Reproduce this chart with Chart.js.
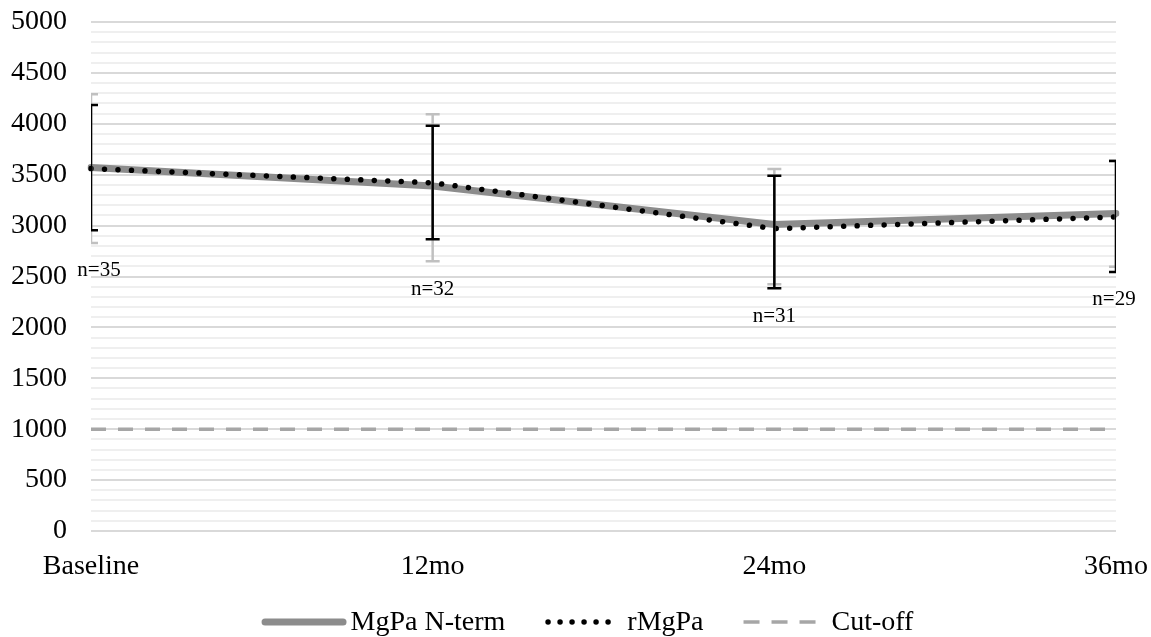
<!DOCTYPE html>
<html lang="en">
<head>
    <meta charset="UTF-8">
    <title>MgPa antibody levels</title>
    <script src="https://cdn.jsdelivr.net/npm/chart.js"></script>
    <style>
        body {
            margin: 0;
            padding: 0;
            background: #ffffff;
        }
        .wrap {
            width: 1151px;
            height: 637px;
        }
    </style>
</head>
<body>
    <div class="wrap">
        <canvas id="mgpaChart" width="1151" height="637"></canvas>
    </div>
    <script>
        // Werte
        const timepoints = ['Baseline', '12mo', '24mo', '36mo'];
        const mgpaNterm = [3570, 3390, 3010, 3120];
        const mgpaNtermLow = [2830, 2650, 2425, 2595];
        const mgpaNtermHigh = [4290, 4095, 3555, 3640];
        const rMgpa = [3560, 3420, 2970, 3085];
        const rMgpaLow = [2955, 2865, 2385, 2545];
        const rMgpaHigh = [4185, 3980, 3490, 3635];
        const cutOff = [1000, 1000, 1000, 1000];
        const nLabels = ['n=35', 'n=32', 'n=31', 'n=29'];

        const serif = 'Liberation Serif';

        // Fehlerbalken und n-Beschriftungen
        const errorBarsPlugin = {
            id: 'errorBars',
            afterDatasetsDraw(chart) {
                const ctx = chart.ctx;
                const x = chart.scales.x;
                const y = chart.scales.y;
                const area = chart.chartArea;
                const cap = 7;

                function drawBars(lows, highs, color) {
                    ctx.save();
                    ctx.beginPath();
                    ctx.rect(area.left, area.top - 20, area.right - area.left, area.bottom - area.top + 40);
                    ctx.clip();
                    ctx.strokeStyle = color;
                    ctx.lineWidth = 2.5;
                    for (let i = 0; i < lows.length; i++) {
                        const px = x.getPixelForValue(i);
                        const top = y.getPixelForValue(highs[i]);
                        const bottom = y.getPixelForValue(lows[i]);
                        ctx.beginPath();
                        ctx.moveTo(px, top);
                        ctx.lineTo(px, bottom);
                        ctx.moveTo(px - cap, top);
                        ctx.lineTo(px + cap, top);
                        ctx.moveTo(px - cap, bottom);
                        ctx.lineTo(px + cap, bottom);
                        ctx.stroke();
                    }
                    ctx.restore();
                }

                drawBars(mgpaNtermLow, mgpaNtermHigh, '#c0c0c0');
                drawBars(rMgpaLow, rMgpaHigh, '#000000');

                ctx.save();
                ctx.font = '21px ' + serif;
                ctx.fillStyle = '#000000';
                ctx.textAlign = 'center';
                ctx.textBaseline = 'middle';
                for (let i = 0; i < nLabels.length; i++) {
                    let px = x.getPixelForValue(i);
                    if (i === 0) px += 8;
                    if (i === nLabels.length - 1) px -= 2;
                    const lowest = Math.min(mgpaNtermLow[i], rMgpaLow[i]);
                    const py = y.getPixelForValue(lowest) + 28;
                    ctx.fillText(nLabels[i], px, py);
                }
                ctx.restore();
            }
        };

        // Legende unten, selbst gezeichnet (Muster unterschiedlich lang)
        const legendPlugin = {
            id: 'bottomLegend',
            afterDraw(chart) {
                const ctx = chart.ctx;
                const area = chart.chartArea;
                const yMid = 622;
                const itemGap = 40;
                ctx.save();
                ctx.font = '28px ' + serif;
                ctx.textBaseline = 'middle';

                const items = chart.data.datasets.map(ds => ({
                    ds: ds,
                    textW: ctx.measureText(ds.label).width
                }));
                let total = 0;
                items.forEach((it, i) => {
                    total += it.ds.legendSample + it.ds.legendGap + it.textW;
                    if (i > 0) total += itemGap;
                });

                let cx = (area.left + area.right) / 2 - 16 - total / 2;
                items.forEach(it => {
                    const ds = it.ds;
                    ctx.save();
                    ctx.strokeStyle = ds.borderColor;
                    ctx.lineWidth = ds.borderWidth;
                    ctx.lineCap = ds.borderCapStyle || 'butt';
                    ctx.setLineDash(ds.legendDash || ds.borderDash || []);
                    ctx.beginPath();
                    const inset = ctx.lineCap === 'round' ? ds.borderWidth / 2 : 0;
                    ctx.moveTo(cx + inset, yMid);
                    ctx.lineTo(cx + ds.legendSample - inset, yMid);
                    ctx.stroke();
                    ctx.restore();
                    cx += ds.legendSample + ds.legendGap;
                    ctx.fillStyle = '#000000';
                    ctx.fillText(ds.label, cx, yMid + 1);
                    cx += it.textW + itemGap;
                });
                ctx.restore();
            }
        };

        const ctx = document.getElementById('mgpaChart').getContext('2d');

        const chart = new Chart(ctx, {
            type: 'line',
            data: {
                labels: timepoints,
                datasets: [
                    {
                        label: 'MgPa N-term',
                        data: mgpaNterm,
                        borderColor: '#8c8c8c',
                        backgroundColor: '#8c8c8c',
                        borderWidth: 7,
                        borderCapStyle: 'round',
                        pointRadius: 0,
                        tension: 0,
                        order: 3,
                        legendSample: 85,
                        legendGap: 4
                    },
                    {
                        label: 'rMgPa',
                        data: rMgpa,
                        borderColor: '#000000',
                        backgroundColor: '#000000',
                        borderWidth: 5.5,
                        borderDash: [0.001, 13.5],
                        borderCapStyle: 'round',
                        pointRadius: 0,
                        tension: 0,
                        order: 2,
                        legendSample: 76,
                        legendGap: 6,
                        legendDash: [0.001, 12]
                    },
                    {
                        label: 'Cut-off',
                        data: cutOff,
                        borderColor: '#a6a6a6',
                        backgroundColor: '#a6a6a6',
                        borderWidth: 3.5,
                        borderDash: [15, 12],
                        pointRadius: 0,
                        tension: 0,
                        order: 1,
                        legendSample: 72,
                        legendGap: 16,
                        legendDash: [16, 12]
                    }
                ]
            },
            options: {
                responsive: false,
                animation: false,
                layout: {
                    padding: { top: 22, right: 35, left: 0, bottom: 0 }
                },
                plugins: {
                    tooltip: { enabled: false },
                    legend: { display: false }
                },
                scales: {
                    x: {
                        offset: false,
                        grid: { display: false },
                        border: { display: false },
                        afterFit: s => {
                            s.height = 106;
                            s.paddingLeft = 0;
                            s.paddingRight = 0;
                        },
                        ticks: {
                            color: '#000000',
                            padding: 11,
                            maxRotation: 0,
                            font: { family: serif, size: 28 }
                        }
                    },
                    y: {
                        min: 0,
                        max: 5000,
                        border: { display: false },
                        afterFit: s => {
                            s.width = 91;
                            s.paddingTop = 0;
                            s.paddingBottom = 0;
                        },
                        grid: {
                            color: c => (c.tick.value % 500 === 0 ? '#d9d9d9' : '#efefef'),
                            lineWidth: 2,
                            drawTicks: false
                        },
                        ticks: {
                            stepSize: 100,
                            autoSkip: false,
                            padding: 24,
                            color: '#000000',
                            font: { family: serif, size: 28 },
                            callback: v => (v % 500 === 0 ? v : '')
                        }
                    }
                }
            },
            plugins: [errorBarsPlugin, legendPlugin]
        });
    </script>
</body>
</html>
